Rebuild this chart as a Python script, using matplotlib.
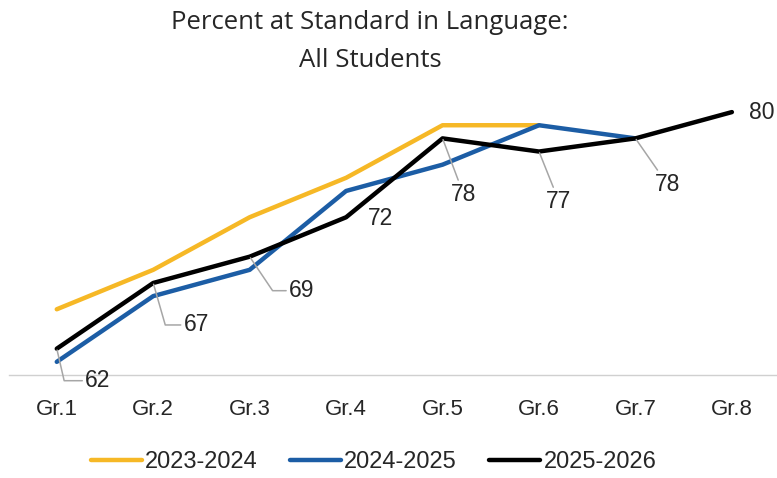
import matplotlib.pyplot as plt

# Data
grades = ["Gr.1", "Gr.2", "Gr.3", "Gr.4", "Gr.5", "Gr.6", "Gr.7", "Gr.8"]
y2023 = [65, 68, 72, 75, 79, 79]
y2024 = [61, 66, 68, 74, 76, 79, 78]
y2025 = [62, 67, 69, 72, 78, 77, 78, 80]

num_font = "Liberation Sans"
txt_col = "#262626"

fig = plt.figure(figsize=(7.77, 4.78), dpi=100)
ax = fig.add_axes([0.011, 0.2155, 0.993, 0.605])

x = list(range(len(grades)))
ax.plot(x[:len(y2023)], y2023, color="#F6B826", lw=3.2, label="2023-2024", solid_capstyle="round")
ax.plot(x[:len(y2024)], y2024, color="#1C5DA5", lw=3.2, label="2024-2025", solid_capstyle="round")
ax.plot(x, y2025, color="black", lw=3.2, label="2025-2026", solid_capstyle="round")

ax.set_xlim(-0.5, 7.5)
ax.set_ylim(60, 82)
ax.set_xticks(x)
ax.set_xticklabels(grades, fontsize=16, family=num_font, color=txt_col)
ax.set_yticks([])
ax.tick_params(axis="x", length=0, pad=17)
for s in ["top", "right", "left"]:
    ax.spines[s].set_visible(False)
ax.spines["bottom"].set_color("#D0D0D0")
ax.spines["bottom"].set_linewidth(1)

# data labels for 2025-2026 (offsets in pixels, leader line shape)
offsets = [(41, -32), (43, -42), (52, -34), (34, -1), (21, -56), (20, -50), (32, -46), (30, 0)]
connect = ["angle,angleA=0,angleB=-77,rad=0", "angle,angleA=0,angleB=-74,rad=0",
           "angle,angleA=0,angleB=-56,rad=0", None, "arc3", "arc3", "arc3", None]
for i, v in enumerate(y2025):
    dx, dy = offsets[i]
    props = None
    if connect[i] is not None:
        props = dict(arrowstyle="-", color="#A6A6A6", lw=1.1,
                     connectionstyle=connect[i], shrinkA=0, shrinkB=1)
    ax.annotate(str(v), (i, v), xytext=(dx, dy), textcoords="offset pixels",
                ha="center", va="center", fontsize=16.5, family=num_font,
                color=txt_col, arrowprops=props, annotation_clip=False)

fig.text(0.476, 1 - 29 / 478, "Percent at Standard in Language:", ha="center", va="baseline",
         fontsize=18.5, family="Open Sans", color=txt_col)
fig.text(0.476, 1 - 67 / 478, "All Students", ha="center", va="baseline",
         fontsize=18.5, family="Open Sans", color=txt_col)

leg = fig.legend(loc="center", bbox_to_anchor=(373.5 / 777, 1 - 462 / 478), ncol=3, frameon=False,
                 prop={"family": num_font, "size": 17}, handlelength=2.16,
                 handletextpad=0.15, columnspacing=1.35, borderpad=0, borderaxespad=0)
for t in leg.get_texts():
    t.set_color(txt_col)

fig.savefig("out.png", dpi=100)
